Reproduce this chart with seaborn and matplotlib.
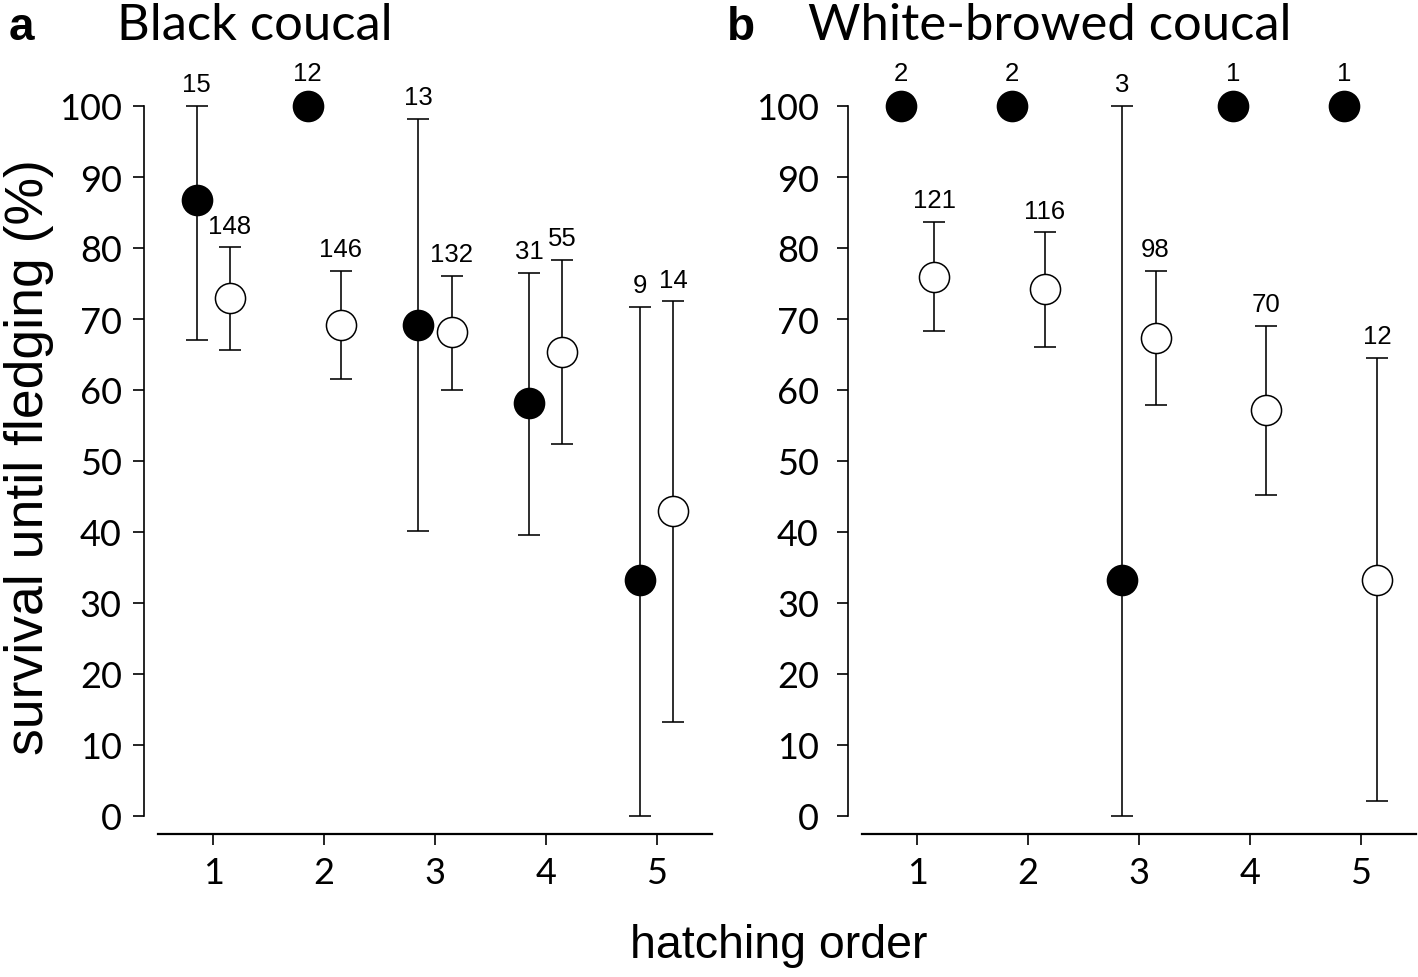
import numpy as np
import pandas as pd
import matplotlib
matplotlib.use("Agg")
import matplotlib.pyplot as plt
import seaborn as sns

# ──────────────────────────────────────────────
# DATA
# ──────────────────────────────────────────────

hatch_order = [1, 2, 3, 4, 5]

# a: Black coucal
bc_filled_mean = [86.7, 100.0, 69.2, 58.1, 33.3]
bc_filled_lo   = [67.0, np.nan, 40.1, 39.6, 0.0]
bc_filled_hi   = [100.0, np.nan, 98.2, 76.5, 71.7]
bc_filled_n    = [15, 12, 13, 31, 9]

bc_open_mean = [73.0, 69.2, 68.2, 65.4, 42.9]
bc_open_lo   = [65.6, 61.5, 60.0, 52.4, 13.2]
bc_open_hi   = [80.1, 76.8, 76.1, 78.3, 72.5]
bc_open_n    = [148, 146, 132, 55, 14]

# b: White-browed coucal
wb_filled_mean = [100.0, 100.0, 33.3, 100.0, 100.0]
wb_filled_lo   = [np.nan, np.nan, 0.0, np.nan, np.nan]
wb_filled_hi   = [np.nan, np.nan, 100.0, np.nan, np.nan]
wb_filled_n    = [2, 2, 3, 1, 1]

wb_open_mean = [75.9, 74.2, 67.3, 57.2, 33.3]
wb_open_lo   = [68.3, 66.1, 57.9, 45.2, 2.1]
wb_open_hi   = [83.7, 82.2, 76.8, 69.0, 64.5]
wb_open_n    = [121, 116, 98, 70, 12]

species_titles = ["Black coucal", "White-browed coucal"]
panel_letters = ["a", "b"]
y_ticks = list(range(0, 101, 10))


def make_frame(mean, lo, hi, n, dodge):
    df = pd.DataFrame({"order": hatch_order, "mean": mean, "lo": lo, "hi": hi, "n": n})
    df["x"] = df["order"] + dodge
    return df


DPI = 100
W, H = 1418, 978
sns.set_style("ticks")
plt.rcParams["font.family"] = ["Lato", "DejaVu Sans"]
plt.rcParams["text.color"] = "black"
plt.rcParams["axes.labelcolor"] = "black"
plt.rcParams["axes.edgecolor"] = "black"
ARIAL = ["Liberation Sans", "DejaVu Sans"]

fig = plt.figure(figsize=(W / DPI, H / DPI), dpi=DPI)

y_top, y_bot = 107, 817
panel_px = [(158, 712), (862, 1416)]
ytick_pad = [8, 13]

groups = [
    [make_frame(bc_filled_mean, bc_filled_lo, bc_filled_hi, bc_filled_n, -0.15),
     make_frame(bc_open_mean, bc_open_lo, bc_open_hi, bc_open_n, 0.15)],
    [make_frame(wb_filled_mean, wb_filled_lo, wb_filled_hi, wb_filled_n, -0.15),
     make_frame(wb_open_mean, wb_open_lo, wb_open_hi, wb_open_n, 0.15)],
]

for i, (x0, x1) in enumerate(panel_px):
    ax = fig.add_axes([x0 / W, 1 - y_bot / H, (x1 - x0) / W, (y_bot - y_top) / H])
    for df, face in zip(groups[i], ["black", "white"]):
        eb = df.dropna(subset=["lo", "hi"])
        ax.errorbar(eb["x"], eb["mean"],
                    yerr=[eb["mean"] - eb["lo"], eb["hi"] - eb["mean"]],
                    fmt="none", ecolor="black", elinewidth=1.15,
                    capsize=8, capthick=1.15, zorder=2, clip_on=False)
        sns.scatterplot(data=df, x="x", y="mean", ax=ax, s=470, color=face,
                        edgecolor="black", linewidth=1.1, zorder=3,
                        clip_on=False, legend=False)
        for _, r in df.iterrows():
            if np.isnan(r["hi"]):
                top, off = r["mean"], 15
            else:
                top, off = r["hi"], 7
            ax.annotate(f"{int(r['n'])}", (r["x"], top), xytext=(0, off),
                        textcoords="offset points", ha="center", va="bottom",
                        fontsize=18.5, family=ARIAL, color="black")

    ax.set_xlim(0.5, 5.5)
    ax.set_ylim(0, 100)
    ax.set_xticks(hatch_order)
    ax.set_yticks(y_ticks)
    ax.set_xlabel("")
    ax.set_ylabel("")
    sns.despine(ax=ax)
    ax.spines["left"].set_position(("outward", 10))
    ax.spines["bottom"].set_position(("outward", 13))
    ax.spines["left"].set_linewidth(1.2)
    ax.spines["bottom"].set_linewidth(1.6)
    ax.tick_params(axis="both", direction="out", length=8, width=1.2,
                   labelsize=26, color="black", labelcolor="black")
    ax.tick_params(axis="y", pad=ytick_pad[i])
    ax.tick_params(axis="x", pad=8)

# titles
fig.text(9 / W, 1 - 40 / H, panel_letters[0], fontsize=33, fontweight="bold",
         family=ARIAL, va="baseline")
fig.text(117 / W, 1 - 40 / H, species_titles[0], fontsize=36.5, va="baseline")
fig.text(727 / W, 1 - 40 / H, panel_letters[1], fontsize=33, fontweight="bold",
         family=ARIAL, va="baseline")
fig.text(808 / W, 1 - 40 / H, species_titles[1], fontsize=36.5, va="baseline")

# axis labels
fig.text(29 / W, 1 - 457 / H, "survival until fledging (%)", rotation=90,
         ha="center", va="center", fontsize=38.5, family=ARIAL)
fig.text(779 / W, 1 - 958 / H, "hatching order", ha="center", va="baseline",
         fontsize=33.5, family=ARIAL)

fig.savefig("out.png", dpi=DPI)
